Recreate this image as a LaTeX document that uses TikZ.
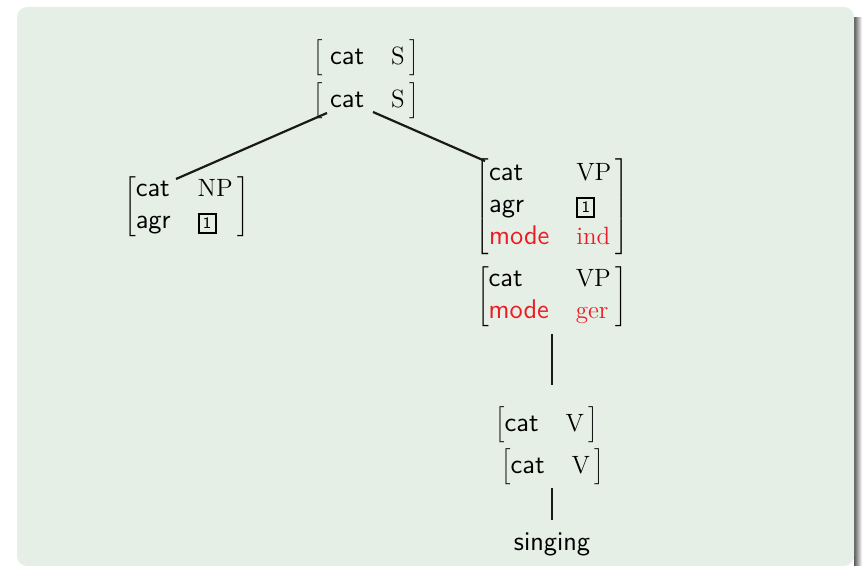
\RequirePackage{fix-cm}
\documentclass[tikz,border=0pt]{standalone}
\usepackage{xcolor}
\definecolor{bgblock}{RGB}{229,239,230}
\definecolor{avmred}{RGB}{236,28,36}
\newcommand{\avmfeat}[1]{\textsf{#1}}
\newcommand{\avmval}[1]{\mbox{\fontsize{12.5}{16}\selectfont\rmfamily #1}}
\newcommand{\avmtag}[1]{\mbox{\setlength\fboxsep{1.5pt}\setlength\fboxrule{1pt}\fbox{\makebox[4.5pt]{\sffamily\footnotesize #1}}}}
\newcommand{\avmat}[2]{\left[\begin{array}{@{#1}l@{\hspace{13.5pt}}l@{\,}}#2\end{array}\right]}
\begin{document}
\begin{tikzpicture}[x=0.5pt,y=-0.5pt,
  avm/.style={inner sep=0pt, font=\fontsize{13.5}{16}\selectfont\sffamily},
  edge/.style={line width=1.1pt, draw=black!90}]
\useasboundingbox (0,0) rectangle (863,566);
% block shadow and background
\shade[left color=black!65, right color=white] (854,18) rectangle (862,566);
\fill[bgblock, rounded corners=5pt] (17,7) rectangle (854,566);
% AVM nodes
\node[avm] (s1) at (366,58) {$\avmat{\;}{\avmfeat{cat} & \avmval{S}}$};
\node[avm] (s2) at (366,101) {$\avmat{\;}{\avmfeat{cat} & \avmval{S}}$};
\node[avm] (np) at (186.5,206.5) {$\avmat{}{\avmfeat{cat} & \avmval{NP}\\ \avmfeat{agr} & \avmtag{1}}$};
\node[avm] (vp1) at (552.5,206.5) {$\avmat{}{\avmfeat{cat} & \avmval{VP}\\ \avmfeat{agr} & \avmtag{1}\\ \color{avmred}\avmfeat{mode} & \color{avmred}\avmval{ind}}$};
\node[avm] (vp2) at (552,296.5) {$\avmat{}{\avmfeat{cat} & \avmval{VP}\\ \color{avmred}\avmfeat{mode} & \color{avmred}\avmval{ger}}$};
\node[avm] (v1) at (546.5,425) {$\avmat{}{\avmfeat{cat} & \avmval{V}}$};
\node[avm] (v2) at (552.5,467) {$\avmat{}{\avmfeat{cat} & \avmval{V}}$};
\node[avm, anchor=base] (sing) at (552,551) {singing};
% connectors
\draw[edge] ([shift={(-39,12)}]s2.center) -- ([shift={(-10.5,-27.5)}]np.center);
\draw[edge] ([shift={(7,11)}]s2.center) -- ([shift={(-67.5,-45.5)}]vp1.center);
\draw[edge] ([shift={(0,37.5)}]vp2.center) -- ([shift={(5.5,-40)}]v1.center);
\draw[edge] ([shift={(-0.5,21)}]v2.center) -- ([shift={(0,-31)}]sing.base);
\end{tikzpicture}
\end{document}
